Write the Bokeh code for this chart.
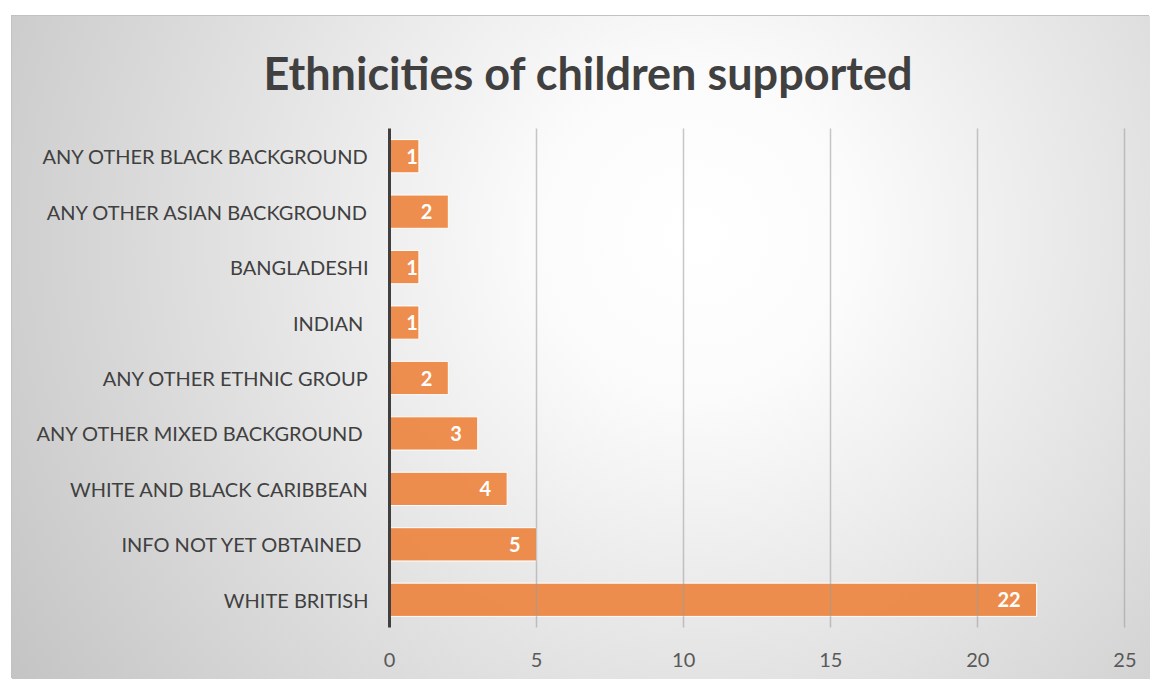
from bokeh.plotting import figure
from bokeh.models import ColumnDataSource, FactorRange, Range1d, FixedTicker
from bokeh.core.properties import value
from bokeh.embed import file_html
from bokeh.resources import INLINE

# ---- data (top to bottom as shown) ----
categories = [
    "ANY OTHER BLACK BACKGROUND",
    "ANY OTHER ASIAN BACKGROUND",
    "BANGLADESHI",
    "INDIAN ",
    "ANY OTHER ETHNIC GROUP",
    "ANY OTHER MIXED BACKGROUND ",
    "WHITE AND BLACK CARIBBEAN",
    "INFO NOT YET OBTAINED ",
    "WHITE BRITISH",
]
counts = [1, 2, 1, 1, 2, 3, 4, 5, 22]
x_ticks = [0, 5, 10, 15, 20, 25]
title_text = "Ethnicities of children supported"

FONT = "Lato"
PX_PER_UNIT = (1113 - 377) / 25.0

source = ColumnDataSource(dict(
    cat=categories,
    val=counts,
    lbl=[str(v) for v in counts],
    off=[(-1 if v * PX_PER_UNIT < 40 else -16) for v in counts],
))

p = figure(
    width=1138, height=663,
    y_range=FactorRange(factors=list(reversed(categories)), range_padding=0),
    x_range=Range1d(0, 25.02),
    output_backend="svg", toolbar_location=None,
    min_border_left=377, min_border_right=25,
    min_border_top=112, min_border_bottom=52,
)
p.margin = (16, 0, 0, 12)
p.styles = {
    "background": "radial-gradient(circle farthest-corner at 60% 33%, #ffffff 0%, #fbfbfb 20%, #c4c4c4 100%)",
    "box-shadow": "-1px -1px 0 #c2c2c2",
}
p.background_fill_alpha = 0
p.border_fill_alpha = 0
p.outline_line_color = None

# title
p.title.text = title_text
p.title.align = "left"
p.title.vertical_align = "top"
p.title.text_font = FONT
p.title.text_font_style = "bold"
p.title.text_font_size = "45px"
p.title.text_color = "#404040"
p.title.standoff = 54
p.title.offset = -126

# grid
p.ygrid.grid_line_color = None
p.xgrid.ticker = FixedTicker(ticks=x_ticks)
p.xgrid.grid_line_color = "#9a9a9a"
p.xgrid.grid_line_alpha = 0.55
p.xgrid.grid_line_width = 1.5
p.xgrid.level = "overlay"

# bars
p.hbar(y="cat", right="val", left=0, height=0.6, source=source,
       fill_color="#ED7D31", fill_alpha=0.85, line_color="#ffffff", line_width=1)

p.text(x="val", y="cat", text="lbl", source=source, x_offset="off",
       text_align="right", text_baseline="middle", text_color="#ffffff",
       text_font=value(FONT), text_font_style="bold", text_font_size="20px")

# axes
xa = p.xaxis[0]
xa.ticker = FixedTicker(ticks=x_ticks)
xa.axis_line_color = None
xa.major_tick_line_color = None
xa.minor_tick_line_color = None
xa.major_label_text_font = FONT
xa.major_label_text_font_size = "20px"
xa.major_label_text_color = "#595959"
xa.major_label_standoff = 19

ya = p.yaxis[0]
ya.axis_line_color = "#404040"
ya.axis_line_width = 3
ya.major_tick_line_color = None
ya.minor_tick_line_color = None
ya.major_label_text_font = FONT
ya.major_label_text_font_size = "20px"
ya.major_label_text_color = "#404040"
ya.major_label_standoff = 15

open("out.html", "w").write(file_html(p, INLINE))
